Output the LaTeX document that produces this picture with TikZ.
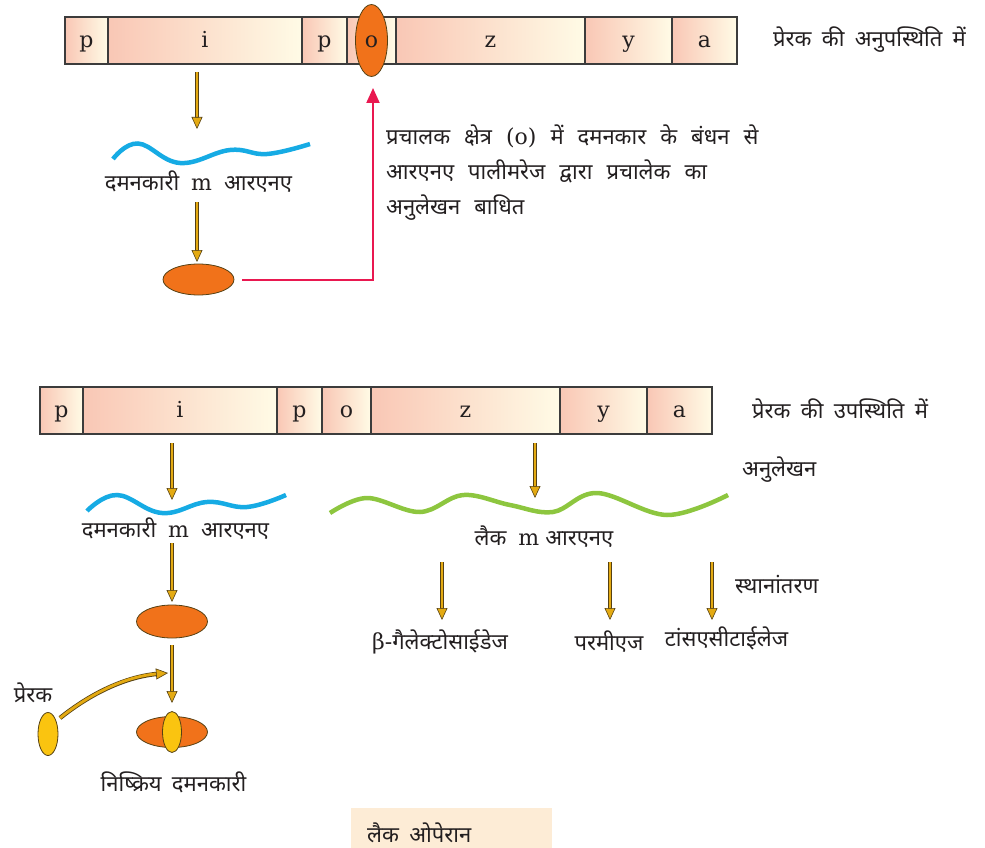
\documentclass[tikz,border=0pt]{standalone}
\usepackage{fontspec}
\setmainfont{DejaVu Serif}
\newfontfamily\hin[Script=Devanagari,WordSpace=1.8]{Noto Sans}
\usetikzlibrary{arrows.meta,shapes.geometric}
\definecolor{segL}{RGB}{249,199,181}
\definecolor{segR}{RGB}{255,251,230}
\definecolor{bord}{RGB}{60,60,60}
\definecolor{gold}{RGB}{228,170,18}
\definecolor{gdark}{RGB}{85,65,20}
\definecolor{orng}{RGB}{241,114,26}
\definecolor{yel}{RGB}{250,196,16}
\definecolor{blu}{RGB}{22,171,228}
\definecolor{grn}{RGB}{141,198,63}
\definecolor{redc}{RGB}{233,24,80}
\definecolor{peach}{RGB}{253,236,214}
\definecolor{txt}{RGB}{35,31,32}
\newcommand\widesp{\spaceskip=14pt\relax}
\tikzset{
  seg/.style={draw=bord, line width=1.1pt, left color=segL, right color=segR,
    minimum height=47pt, inner sep=0pt, outer sep=0pt, anchor=west,
    font=\fontsize{22}{24}\selectfont, text=txt, text height=17pt, text depth=3pt},
  hlab/.style={font=\hin\fontsize{22}{26}\selectfont, text=txt, inner sep=0pt},
  garrow/.style={draw=gold, line width=2.8pt,
    -{Triangle[width=11pt,length=12pt,fill=gold,color=gdark,line width=0.6pt]},
    preaction={draw=gdark, line width=4.4pt, arrows=-, shorten >=9pt}},
  oval/.style={ellipse, draw=gdark, line width=0.8pt, inner sep=0pt, outer sep=0pt},
  redarrow/.style={draw=redc, line width=2pt, -{Triangle[width=13pt,length=15pt]}},
  wave/.style={line width=4.5pt}
}
\begin{document}
\begin{tikzpicture}[x=1pt,y=-1pt]
\useasboundingbox (0,0) rectangle (985,848);

% ---------- top: inducer absent ----------
\node[seg, minimum width=43pt]  (tp1) at (65,40.5) {p};
\node[seg, minimum width=194pt] (ti)  at (tp1.east) {i};
\node[seg, minimum width=45pt]  (tp2) at (ti.east) {p};
\node[seg, minimum width=49pt]  (to)  at (tp2.east) {};
\node[seg, minimum width=189pt] (tz)  at (to.east) {z};
\node[seg, minimum width=87pt]  (ty)  at (tz.east) {y};
\node[seg, minimum width=65pt]  (ta)  at (ty.east) {a};
\node[oval, fill=orng, minimum width=32pt, minimum height=72pt,
      font=\fontsize{22}{24}\selectfont, text=txt, text height=17pt, text depth=3pt]
      (oell) at (to.center) {o};
\node[hlab, anchor=west] (absent) at (773,40) {प्रेरक की अनुपस्थिति में};

\coordinate (a1s) at (197,72);
\coordinate (a1e) at (197,129);
\draw[garrow] (a1s) -- (a1e);
\draw[blu, wave] plot[smooth, tension=0.7] coordinates
  {(113,159) (138,143.5) (180,163) (230,150) (267,154) (310,144)};
\node[hlab] (dm1) at (198.5,182) {दमनकारी\hspace{12pt}{\rmfamily m}\hspace{12pt}आरएनए};
\node[oval, fill=orng, minimum width=71pt, minimum height=31pt] (rep1) at (198.5,279.5) {};
\coordinate (a2s) at (197,202);
\coordinate (a2e) at (197,262);
\draw[garrow] (a2s) -- (a2e);

\coordinate (r1) at (373,88);
\draw[redarrow, shorten <=8pt] (rep1.east) -| (r1);
\node[hlab, anchor=west, align=left, font=\hin\fontsize{22}{35}\selectfont\widesp] (note) at (386,173)
  {प्रचालक क्षेत्र {\rmfamily (o)} में दमनकार के बंधन से\\
   आरएनए पालीमरेज द्वारा प्रचालेक का\\
   अनुलेखन बाधित};

% ---------- bottom: inducer present ----------
\node[seg, minimum width=43pt]  (bp1) at (40,410.5) {p};
\node[seg, minimum width=194pt] (bi)  at (bp1.east) {i};
\node[seg, minimum width=45pt]  (bp2) at (bi.east) {p};
\node[seg, minimum width=49pt]  (bo)  at (bp2.east) {o};
\node[seg, minimum width=189pt] (bz)  at (bo.east) {z};
\node[seg, minimum width=87pt]  (by)  at (bz.east) {y};
\node[seg, minimum width=65pt]  (ba)  at (by.east) {a};
\node[hlab, anchor=west] (present) at (752,409) {प्रेरक की उपस्थिति में};

\coordinate (b1s) at (172,443);
\coordinate (b1e) at (172,500);
\draw[garrow] (b1s) -- (b1e);
\draw[blu, wave] plot[smooth, tension=0.7] coordinates
  {(87,511) (117,495) (162,513) (207,502) (247,507) (286,495)};
\node[hlab] (dm2) at (175.5,529) {दमनकारी\hspace{12pt}{\rmfamily m}\hspace{12pt}आरएनए};

\node[oval, fill=orng, minimum width=71pt, minimum height=33pt] (rep2) at (172,621.5) {};
\coordinate (b2s) at (172,543);
\coordinate (b2e) at (172,602);
\draw[garrow] (b2s) -- (b2e);

\node[oval, fill=orng, minimum width=71pt, minimum height=31pt] (rep3) at (172,732) {};
\node[oval, fill=yel, minimum width=19pt, minimum height=41pt] (ind2) at (172,732) {};
\coordinate (b3s) at (172,645);
\coordinate (b3e) at (172,703);
\draw[garrow] (b3s) -- (b3e);

\node[oval, fill=yel, minimum width=20pt, minimum height=43pt] (ind) at (48,734) {};
\node[hlab] (indlab) at (33,693) {प्रेरक};
\coordinate (c0) at (60,718);
\coordinate (c1) at (168,673);
\draw[garrow] (c0) .. controls (95,690) and (130,676) .. (c1);
\node[hlab] (inact) at (173.5,782) {निष्क्रिय दमनकारी};

\coordinate (d1s) at (535,443);
\coordinate (d1e) at (535,498);
\draw[garrow] (d1s) -- (d1e);
\draw[grn, wave] plot[smooth, tension=0.6] coordinates
  {(330,513) (367,498) (420,512) (463,495) (510,505) (553,512) (597,493) (667,515) (728,495)};
\node[hlab, anchor=west] (transc) at (742,470) {अनुलेखन};
\node[hlab] (lacm) at (544,537) {लैक\hspace{12pt}{\rmfamily m}\hspace{6pt}आरएनए};

\coordinate (e1s) at (442,562); \coordinate (e1e) at (442,620);
\coordinate (e2s) at (610,562); \coordinate (e2e) at (610,620);
\coordinate (e3s) at (712,562); \coordinate (e3e) at (712,620);
\draw[garrow] (e1s) -- (e1e);
\draw[garrow] (e2s) -- (e2e);
\draw[garrow] (e3s) -- (e3e);
\node[hlab] (bgal) at (440,642) {{\rmfamily β-}गैलेक्टोसाईडेज};
\node[hlab] (perm) at (609,642) {परमीएज};
\node[hlab] (trans) at (726.5,638) {टांसएसीटाईलेज};
\node[hlab, anchor=west] (transl) at (735,585) {स्थानांतरण};

\fill[peach] (351,808) rectangle (552,848);
\node[hlab, anchor=west] (lacop) at (367,833) {लैक ओपेरान};
\end{tikzpicture}
\end{document}
